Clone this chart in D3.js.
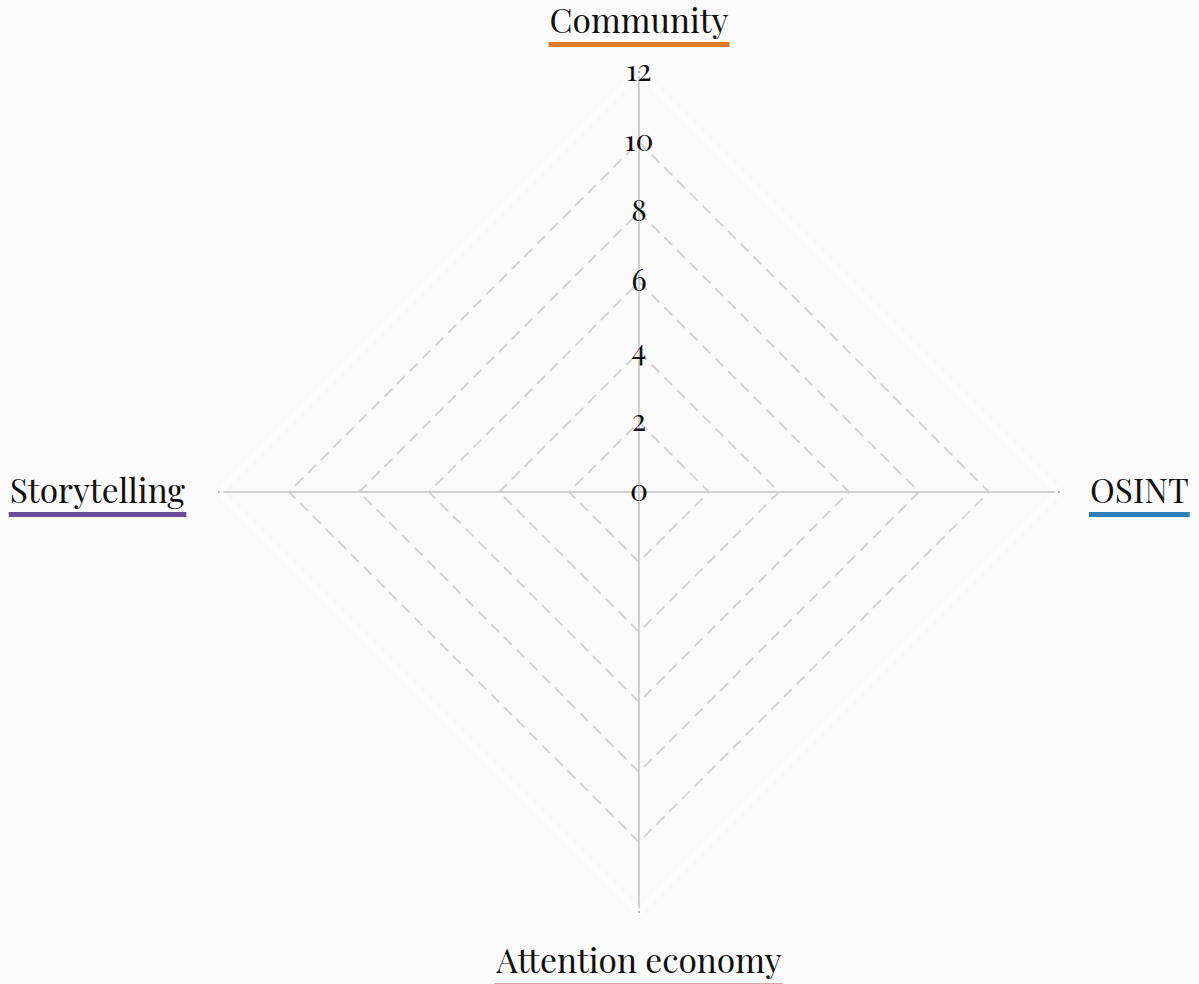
<!DOCTYPE html>
<html>
<head>
<meta charset="utf-8">
<script src="https://cdn.jsdelivr.net/npm/d3@7"></script>
<style>
  body { margin: 0; background: #fafafa; }
  svg { display: block; }
  text { font-family: "Playfair Display", "Liberation Serif", "DejaVu Serif", serif; fill: #111; }
</style>
</head>
<body>
<svg id="canvas"></svg>
<script>
let axes = ['Community', 'OSINT', 'Attention economy', 'Storytelling'];
let axisColors = ['#dd7a2c', '#2e80b8', '#d9a3aa', '#6b4c9a'];
let levels = [2, 4, 6, 8, 10];
let tickLabels = [0, 2, 4, 6, 8, 10, 12];
let maxValue = 12;

let width = 1199;
let height = 984;
let cx = 639;
let cy = 492;

let canvas = d3.select('#canvas')
    .attr('width', width)
    .attr('height', height);

let r = d3.scaleLinear().domain([0, maxValue]).range([0, 420]);
let angle = d3.scalePoint().domain(axes).range([0, 2 * Math.PI * 3 / 4]);

let g = canvas.append('g').attr('transform', 'translate(' + cx + ',' + cy + ')');

let point = (name, v) => {
    let a = angle(name);
    return [Math.sin(a) * r(v), -Math.cos(a) * r(v)];
}

let ring = (v) => axes.map(a => point(a, v));
let line = d3.line().curve(d3.curveLinearClosed);

// outer border
g.append('path')
    .attr('d', line(ring(maxValue)))
    .attr('fill', 'none')
    .attr('stroke', '#ffffff')
    .attr('stroke-width', 5);

// dashed levels
g.selectAll('.level')
    .data(levels)
    .enter()
    .append('path')
    .attr('class', 'level')
    .attr('d', d => line(ring(d)))
    .attr('fill', 'none')
    .attr('stroke', '#d4d4d4')
    .attr('stroke-width', 2)
    .attr('stroke-dasharray', '11,7');

// axis lines
g.selectAll('.axis')
    .data(axes)
    .enter()
    .append('line')
    .attr('class', 'axis')
    .attr('x1', 0)
    .attr('y1', 0)
    .attr('x2', d => point(d, maxValue * 0.99)[0])
    .attr('y2', d => point(d, maxValue * 0.99)[1])
    .attr('stroke', '#d0d0d0')
    .attr('stroke-width', 2);

g.selectAll('.tip')
    .data(axes)
    .enter()
    .append('circle')
    .attr('cx', d => point(d, maxValue)[0])
    .attr('cy', d => point(d, maxValue)[1])
    .attr('r', 1)
    .attr('fill', '#999');

// tick labels
g.selectAll('.tick')
    .data(tickLabels)
    .enter()
    .append('text')
    .attr('class', 'tick')
    .attr('x', 0)
    .attr('y', d => -r(d))
    .attr('dy', '0.3em')
    .attr('text-anchor', 'middle')
    .attr('font-size', 30)
    .text(d => d);

// axis labels with underline
let labelPos = [
    { x: 0, y: -459, anchor: 'middle' },
    { x: 451, y: 11, anchor: 'start' },
    { x: 0, y: 481, anchor: 'middle' },
    { x: -454, y: 11, anchor: 'end' }
];

let labels = g.selectAll('.label')
    .data(axes)
    .enter()
    .append('g')
    .attr('class', 'label');

labels.append('text')
    .attr('x', (d, i) => labelPos[i].x)
    .attr('y', (d, i) => labelPos[i].y)
    .attr('text-anchor', (d, i) => labelPos[i].anchor)
    .attr('font-size', 33.5)
    .text(d => d)
    .each(function (d, i) {
        let bb = this.getBBox();
        d3.select(this.parentNode).append('rect')
            .attr('x', bb.x - 1)
            .attr('y', labelPos[i].y + (i === 2 ? 10 : 9))
            .attr('width', bb.width + 2)
            .attr('height', i === 2 ? 2 : 5)
            .attr('fill', axisColors[i]);
    });
</script>
</body>
</html>
